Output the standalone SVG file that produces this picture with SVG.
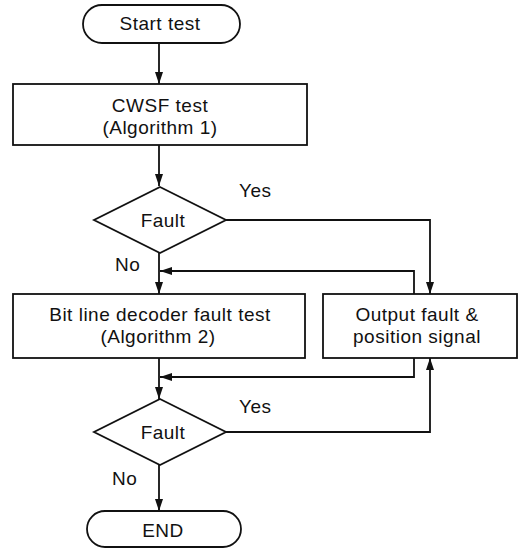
<svg xmlns="http://www.w3.org/2000/svg" width="520" height="550" viewBox="0 0 520 550">
<style>
.shape{fill:#fff;stroke:#111;stroke-width:1.8}
.line{fill:none;stroke:#111;stroke-width:1.8}
text{font-family:"Liberation Sans",Arial,sans-serif;font-size:19px;fill:#111;letter-spacing:0.5px}
.c{text-anchor:middle}
</style>
<defs>
<marker id="ah" viewBox="0 0 12 8" refX="12" refY="4" markerWidth="12" markerHeight="8" markerUnits="userSpaceOnUse" orient="auto">
<path d="M0,0 L12,4 L0,8 Z" fill="#111"/>
</marker>
</defs>
<rect width="520" height="550" fill="#fff"/>
<g id="connectors">
<path class="line" d="M159,43 V84" marker-end="url(#ah)"/>
<path class="line" d="M159,145 V186" marker-end="url(#ah)"/>
<path class="line" d="M226,220 H430 V294" marker-end="url(#ah)"/>
<path class="line" d="M159,253 V294" marker-end="url(#ah)"/>
<path class="line" d="M414,294 V271 H160" marker-end="url(#ah)"/>
<path class="line" d="M159,358 V399" marker-end="url(#ah)"/>
<path class="line" d="M414,358 V377 H160" marker-end="url(#ah)"/>
<path class="line" d="M226,432 H430 V358" marker-end="url(#ah)"/>
<path class="line" d="M159,465 V511" marker-end="url(#ah)"/>
</g>
<g id="start">
<rect class="shape" x="83" y="5" width="157" height="38" rx="19" ry="19"/>
<text class="c" x="160" y="30">Start test</text>
</g>
<g id="cwsf">
<rect class="shape" x="13" y="84" width="294" height="61"/>
<text class="c" x="160" y="112">CWSF test</text>
<text class="c" x="160" y="134">(Algorithm 1)</text>
</g>
<g id="fault1">
<polygon class="shape" points="160,187 226,220 160,253 94,220"/>
<text class="c" x="163" y="227">Fault</text>
</g>
<g id="labels1">
<text x="239" y="197">Yes</text>
<text x="115" y="271">No</text>
</g>
<g id="bitline">
<rect class="shape" x="13" y="294" width="292" height="64"/>
<text class="c" x="160" y="321">Bit line decoder fault test</text>
<text class="c" x="158" y="343">(Algorithm 2)</text>
</g>
<g id="output">
<rect class="shape" x="323" y="294" width="194" height="64"/>
<text class="c" x="417" y="321">Output fault &amp;</text>
<text class="c" x="417" y="343">position signal</text>
</g>
<g id="fault2">
<polygon class="shape" points="160,399 226,432 160,465 94,432"/>
<text class="c" x="163" y="439">Fault</text>
</g>
<g id="labels2">
<text x="239" y="413">Yes</text>
<text x="112" y="485">No</text>
</g>
<g id="end">
<rect class="shape" x="87" y="511" width="154" height="36" rx="18" ry="18"/>
<text class="c" x="163" y="537">END</text>
</g>
</svg>
